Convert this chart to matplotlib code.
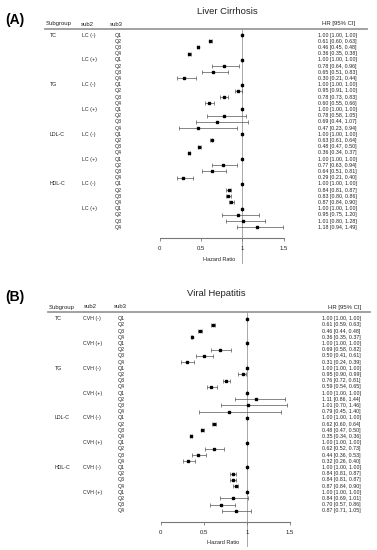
import numpy as np
import matplotlib
matplotlib.use('Agg')
import matplotlib.pyplot as plt
import matplotlib.transforms as mtransforms
from matplotlib.lines import Line2D

plt.rcParams['font.family'] = ['Liberation Sans', 'DejaVu Sans']

# ---- data ----
groups = ['TC', 'TG', 'LDL-C', 'HDL-C']
quartiles = ['Q1', 'Q2', 'Q3', 'Q4']
lc_sub = ['LC (-)', 'LC (+)']
vh_sub = ['CVH (-)', 'CVH (+)']

# Liver cirrhosis
lc_hr = [1.00, 0.61, 0.46, 0.36, 1.00, 0.78, 0.65, 0.30,
         1.00, 0.95, 0.78, 0.60, 1.00, 0.78, 0.69, 0.47,
         1.00, 0.63, 0.48, 0.36, 1.00, 0.77, 0.64, 0.29,
         1.00, 0.84, 0.83, 0.87, 1.00, 0.95, 1.01, 1.18]
lc_lo = [1.00, 0.60, 0.45, 0.35, 1.00, 0.64, 0.51, 0.21,
         1.00, 0.91, 0.73, 0.55, 1.00, 0.58, 0.44, 0.23,
         1.00, 0.61, 0.47, 0.34, 1.00, 0.63, 0.51, 0.21,
         1.00, 0.81, 0.80, 0.84, 1.00, 0.75, 0.80, 0.94]
lc_hi = [1.00, 0.63, 0.48, 0.38, 1.00, 0.96, 0.83, 0.44,
         1.00, 1.00, 0.83, 0.66, 1.00, 1.05, 1.07, 0.94,
         1.00, 0.64, 0.50, 0.37, 1.00, 0.94, 0.81, 0.40,
         1.00, 0.87, 0.86, 0.90, 1.00, 1.20, 1.28, 1.49]

# Viral hepatitis
vh_hr = [1.00, 0.61, 0.46, 0.36, 1.00, 0.69, 0.50, 0.31,
         1.00, 0.95, 0.76, 0.59, 1.00, 1.11, 1.01, 0.79,
         1.00, 0.62, 0.48, 0.35, 1.00, 0.62, 0.44, 0.32,
         1.00, 0.84, 0.84, 0.87, 1.00, 0.84, 0.70, 0.87]
vh_lo = [1.00, 0.59, 0.44, 0.35, 1.00, 0.58, 0.41, 0.24,
         1.00, 0.90, 0.72, 0.54, 1.00, 0.86, 0.70, 0.45,
         1.00, 0.60, 0.47, 0.34, 1.00, 0.52, 0.36, 0.26,
         1.00, 0.81, 0.81, 0.84, 1.00, 0.69, 0.57, 0.71]
vh_hi = [1.00, 0.63, 0.48, 0.37, 1.00, 0.82, 0.61, 0.39,
         1.00, 0.99, 0.81, 0.65, 1.00, 1.44, 1.46, 1.40,
         1.00, 0.64, 0.50, 0.36, 1.00, 0.73, 0.53, 0.40,
         1.00, 0.87, 0.87, 0.90, 1.00, 1.01, 0.86, 1.05]

W, H = 377, 550
TXT = '#222222'


def fx(px):
    return px / W


def fy(py):
    return 1 - py / H


def forest_panel(fig, letter, title, sub2, hr, lo, hi, lay):
    """
    Draws one forest plot panel. lay holds pixel positions of the layout.
    """
    dy = 6.2
    row0 = lay['row0']
    x0, x15 = lay['x0'], lay['x15']
    top, axis_y = lay['line_y'], lay['axis_y']

    ax = fig.add_axes([fx(x0), fy(axis_y), (x15 - x0) / W, (axis_y - top) / H])
    ax.set_xlim(0, 1.5)
    ax.set_ylim((axis_y - row0) / dy, (top - row0) / dy)

    hr = np.array(hr)
    lo = np.array(lo)
    hi = np.array(hi)
    rows = np.arange(len(hr))

    # reference line at HR = 1
    ax.plot([1, 1], [(top - row0) / dy, (lay['vend'] - row0) / dy],
            color='#999999', lw=0.6, clip_on=False, zorder=1)

    ax.errorbar(hr, rows, xerr=[hr - lo, hi - hr], fmt='s', ms=2.1,
                mfc='black', mec='black', ecolor='#555555',
                elinewidth=0.5, capsize=1.3, capthick=0.5, zorder=3)

    for s in ['top', 'right', 'left']:
        ax.spines[s].set_visible(False)
    ax.spines['bottom'].set_color('#777777')
    ax.spines['bottom'].set_linewidth(0.8)
    ax.set_yticks([])
    ax.set_xticks([0, 0.5, 1, 1.5])
    ax.set_xticklabels(['0', '0.5', '1', '1.5'])
    ax.tick_params(axis='x', direction='out', length=2, width=0.6,
                   color='#777777', labelsize=4.3, labelcolor=TXT, pad=4)
    ax.patch.set_visible(False)

    blend = mtransforms.blended_transform_factory(fig.transFigure, ax.transData)

    # row labels
    for g, grp in enumerate(groups):
        ax.text(fx(lay['grp_x']), g * 8, grp, transform=blend,
                fontsize=3.8, color=TXT, va='center', ha='left')
        for s, lab in enumerate(sub2):
            ax.text(fx(lay['sub_x']), g * 8 + s * 4, lab, transform=blend,
                    fontsize=3.8, color=TXT, va='center', ha='left')
    for i in rows:
        ax.text(fx(lay['q_x']), i, quartiles[i % 4], transform=blend,
                fontsize=3.8, color=TXT, va='center', ha='left')
        ax.text(fx(lay['ci_x']), i, '%.2f [%.2f, %.2f]' % (hr[i], lo[i], hi[i]),
                transform=blend, fontsize=3.8, color=TXT, va='center', ha='left')

    # header
    hy = fy(lay['head_y'])
    fig.text(fx(lay['h1_x']), hy, 'Subgroup', fontsize=4.3, color=TXT, va='center')
    fig.text(fx(lay['h2_x']), hy, 'sub2', fontsize=4.3, color=TXT, va='center')
    fig.text(fx(lay['h3_x']), hy, 'sub3', fontsize=4.3, color=TXT, va='center')
    fig.text(fx(lay['hr_x']), hy, 'HR [95% CI]', fontsize=4.3, color=TXT, va='center')
    fig.add_artist(Line2D([fx(lay['line_x0']), fx(lay['line_x1'])],
                          [fy(top), fy(top)], transform=fig.transFigure,
                          color='#9a9a9a', lw=1.3))

    fig.text(fx(lay['title_x']), fy(lay['title_y']), title, fontsize=6.8,
             color=TXT, ha='center', va='center')
    fig.text(fx(5), fy(lay['letter_y']), letter, fontsize=10, fontweight='bold',
             color='black', ha='left', va='center')
    fig.text(fx(lay['xl_x']), fy(lay['xl_y']), 'Hazard Ratio', fontsize=4,
             color=TXT, ha='center', va='center')


fig = plt.figure(figsize=(3.77, 5.50), dpi=100)

lay_a = dict(row0=35.0, x0=159.5, x15=283.5, line_y=29.3, axis_y=238.0, vend=262.5,
             grp_x=50, sub_x=82, q_x=115, ci_x=318, head_y=24, h1_x=45.5, h2_x=81,
             h3_x=110, hr_x=322.5, line_x0=45, line_x1=367, title_x=227, title_y=12,
             letter_y=20, xl_x=219, xl_y=259.7)
lay_b = dict(row0=318.7, x0=160.5, x15=290.0, line_y=312.3, axis_y=521.7, vend=546,
             grp_x=54.5, sub_x=83, q_x=118, ci_x=321.7, head_y=307, h1_x=49, h2_x=84,
             h3_x=114, hr_x=327.5, line_x0=48, line_x1=370, title_x=216, title_y=294,
             letter_y=297, xl_x=223, xl_y=543)

forest_panel(fig, '(A)', 'Liver Cirrhosis', lc_sub, lc_hr, lc_lo, lc_hi, lay_a)
forest_panel(fig, '(B)', 'Viral Hepatitis', vh_sub, vh_hr, vh_lo, vh_hi, lay_b)

fig.savefig('out.png', dpi=100, facecolor='white')
